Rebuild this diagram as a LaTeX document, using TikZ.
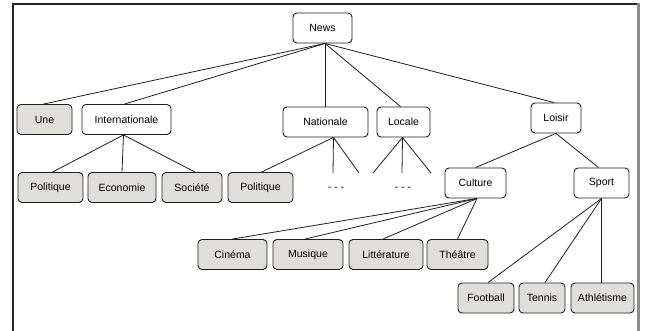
\documentclass[tikz,border=0pt]{standalone}
\usepackage{fontspec}
\setmainfont{Liberation Sans}
\definecolor{leaf}{RGB}{224,222,219}
\definecolor{edge}{RGB}{30,30,30}
\definecolor{rborder}{RGB}{140,140,140}
\begin{document}
\begin{tikzpicture}[x=1pt,y=-1pt,
  box/.style={draw=edge, line width=0.9pt, rounded corners=4pt, minimum height=30pt,
    inner sep=0pt, font=\fontsize{10.5}{12}\selectfont, fill=white},
  leafbox/.style={box, fill=leaf},
  link/.style={draw=edge, line width=0.8pt}]
\useasboundingbox (0,0) rectangle (645,331);
% frame
\draw[line width=1.2pt, draw=black!85] (13,340) -- (13,4) -- (637,4);
\draw[line width=3pt, draw=rborder] (638.5,3) -- (638.5,340);
% nodes
\node[box, minimum width=59pt] (news) at (322.5,28) {News};
\node[leafbox, minimum width=55pt] (une) at (44.5,119.5) {Une};
\node[box, minimum width=89pt] (inter) at (126.5,119.5) {Internationale};
\node[box, minimum width=85pt] (nat) at (325.5,122) {Nationale};
\node[box, minimum width=53pt] (loc) at (403.5,122) {Locale};
\node[box, minimum width=50pt] (loisir) at (556,118) {Loisir};
\node[leafbox, minimum width=65pt] (pol1) at (50.5,187.5) {Politique};
\node[leafbox, minimum width=68pt] (eco) at (122,187.5) {Economie};
\node[leafbox, minimum width=60pt] (soc) at (192,187.5) {Société};
\node[leafbox, minimum width=65pt] (pol2) at (260.5,187.5) {Politique};
\node[box, minimum width=61pt] (cult) at (475.5,183) {Culture};
\node[box, minimum width=55pt] (sport) at (601.5,183) {Sport};
\node[leafbox, minimum width=69pt] (cine) at (232.5,254.5) {Cinéma};
\node[leafbox, minimum width=70pt] (mus) at (308,254.5) {Musique};
\node[leafbox, minimum width=74pt] (lit) at (386,254.5) {Littérature};
\node[leafbox, minimum width=61pt] (the) at (457.5,254.5) {Théâtre};
\node[leafbox, minimum width=56pt] (foot) at (486,298) {Football};
\node[leafbox, minimum width=46pt] (ten) at (542,298) {Tennis};
\node[leafbox, minimum width=63pt] (ath) at (602.5,298) {Athlétisme};
% dangling ends
\coordinate (n1) at (333,173);
\coordinate (n2) at (359,173);
\coordinate (l1) at (373,173);
\coordinate (l2) at (402,173);
\coordinate (l3) at (431,173);
\node[font=\fontsize{10.5}{12}\selectfont] (dots1) at (336,189) {- - -};
\node[font=\fontsize{10.5}{12}\selectfont] (dots2) at (403,189) {- - -};
% edges
\draw[link] (news.south) ++(2.5,0) coordinate (nb);
\draw[link] (nb) -- ([xshift=-1pt]une.north);
\draw[link] (nb) -- ([xshift=-2pt]inter.north);
\draw[link] (nb) -- (nat.north -| nb);
\draw[link] (nb) -- ([xshift=-3pt]loc.north);
\draw[link] (nb) -- ([xshift=-2pt]loisir.north);
\draw[link] ([xshift=-3pt]inter.south) -- ([xshift=2pt]pol1.north);
\draw[link] ([xshift=-3pt]inter.south) -- (eco.north);
\draw[link] ([xshift=-3pt]inter.south) -- ([xshift=3pt]soc.north);
\draw[link] ([xshift=8pt]nat.south) -- ([xshift=1pt]pol2.north);
\draw[link] ([xshift=8pt]nat.south) -- (n1);
\draw[link] ([xshift=8pt]nat.south) -- (n2);
\draw[link] ([xshift=-1pt]loc.south) -- (l1);
\draw[link] ([xshift=-1pt]loc.south) -- (l2);
\draw[link] ([xshift=-1pt]loc.south) -- (l3);
\draw[link] (loisir.south) -- (cult.north);
\draw[link] (loisir.south) -- ([xshift=-3pt]sport.north);
\draw[link] ([xshift=1.5pt]cult.south) -- (cine.north);
\draw[link] ([xshift=1.5pt]cult.south) -- ([xshift=-3pt]mus.north);
\draw[link] ([xshift=1.5pt]cult.south) -- ([xshift=-3pt]lit.north);
\draw[link] ([xshift=1.5pt]cult.south) -- (the.north);
\draw[link] (sport.south) -- ([xshift=2pt]foot.north);
\draw[link] (sport.south) -- ([xshift=3pt]ten.north);
\draw[link] (sport.south) -- (ath.north -| sport.south);
\end{tikzpicture}
\end{document}
